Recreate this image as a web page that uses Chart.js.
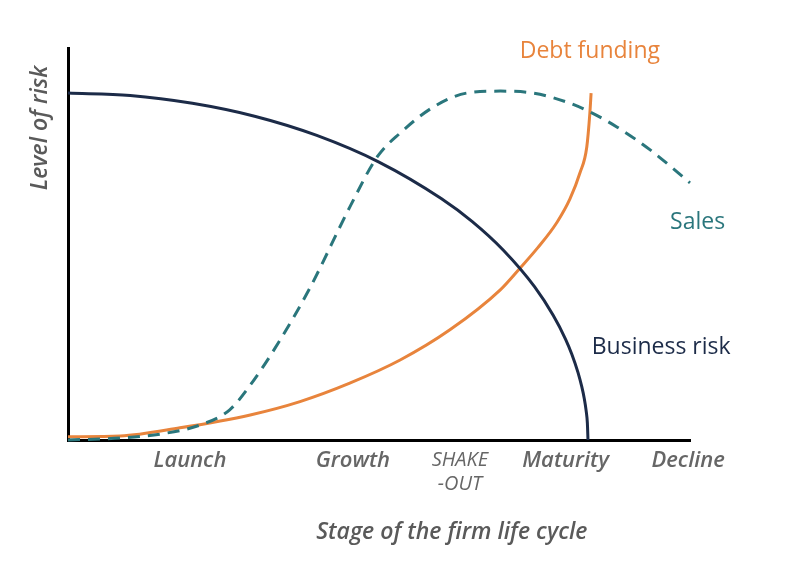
<!DOCTYPE html>
<html>
<head>
<meta charset="utf-8">
<script src="https://cdn.jsdelivr.net/npm/chart.js@4.4.1/dist/chart.umd.min.js"></script>
<style>
  html, body { margin: 0; padding: 0; background: #fff; }
  #wrap { width: 801px; height: 571px; }
</style>
</head>
<body>
<div id="wrap"><canvas id="lifeCycle"></canvas></div>
<script>
// stage positions along the x axis (0 = origin, 100 = end of axis)
const stageNames = ["Launch", "Growth", ["SHAKE", "-OUT"], "Maturity", "Decline"];
const stagePos = [19.6, 45.8, 63, 80, 99.7];

// curves: x positions and level values
const riskX = [0, 10, 20, 30, 40, 50, 60, 65, 70, 75, 78, 80, 81, 82, 82.6, 83, 83.3, 83.5, 83.6];
const riskY = [88.5, 87.9, 85.9, 82.6, 77.7, 70.9, 61.6, 55.7, 48.4, 39.1, 31.8, 25.7, 21.9, 17.2, 13.6, 10.6, 7.5, 4.3, 0];

const debtX = [0, 8.4, 18, 29.3, 37.3, 45.3, 53.4, 61.4, 69.5, 72.7, 75.5, 78.6, 80.7, 82.3, 83.4, 83.9, 84.1];
const debtY = [0.8, 1.0, 3.1, 6.4, 9.8, 14.5, 20.4, 28.1, 38.3, 43.9, 49.0, 55.5, 61.5, 68.1, 74.7, 83.4, 88.5];

const salesX = [0, 8.4, 14.8, 21.2, 26, 29.3, 34.1, 38.9, 45.3, 49.7, 53.4, 58.7, 64.1, 69.5, 74.8, 80.2, 83.9, 88.3, 93.6, 100];
const salesY = [0, 0.5, 1.5, 3.8, 7.7, 14, 25.5, 38.8, 59.4, 72.2, 78.3, 84.9, 88.5, 89, 88.5, 86.2, 83.7, 79.8, 74, 65.6];

const pts = (xs, ys) => xs.map((x, i) => ({ x: x, y: ys[i] }));

const NAVY = "#1c2b48";
const ORANGE = "#e8843c";
const TEAL = "#2a767c";
const GREY = "#666666";

// curve names and axis titles written onto the canvas
const labelPlugin = {
  id: "curveLabels",
  afterDraw(chart) {
    const { ctx, scales: { x, y } } = chart;
    ctx.save();
    ctx.textBaseline = "middle";
    ctx.font = '23px "Open Sans"';

    ctx.fillStyle = ORANGE;
    ctx.textAlign = "center";
    ctx.fillText("Debt funding", x.getPixelForValue(83.9), y.getPixelForValue(99.0));

    ctx.textAlign = "left";
    ctx.fillStyle = TEAL;
    ctx.fillText("Sales", x.getPixelForValue(96.8), y.getPixelForValue(55.4));

    ctx.fillStyle = NAVY;
    ctx.fillText("Business risk", x.getPixelForValue(84.2), y.getPixelForValue(23.5));

    ctx.fillStyle = "#5a5a5a";
    ctx.font = 'italic 600 23px "Open Sans"';
    ctx.textAlign = "center";
    ctx.fillText("Stage of the firm life cycle", x.getPixelForValue(61.7), x.bottom - 39);

    ctx.translate(40, y.getPixelForValue(79.6));
    ctx.rotate(-Math.PI / 2);
    ctx.fillText("Level of risk", 0, 0);
    ctx.restore();
  }
};

new Chart(document.getElementById("lifeCycle"), {
  type: "scatter",
  data: {
    datasets: [
      {
        label: "Business risk",
        data: pts(riskX, riskY),
        borderColor: NAVY,
        borderWidth: 3,
        cubicInterpolationMode: "monotone",
      },
      {
        label: "Sales",
        data: pts(salesX, salesY),
        borderColor: TEAL,
        borderWidth: 3,
        borderDash: [12, 8],
        cubicInterpolationMode: "monotone",
      },
      {
        label: "Debt funding",
        data: pts(debtX, debtY),
        borderColor: ORANGE,
        borderWidth: 3,
        cubicInterpolationMode: "monotone",
      }
    ]
  },
  options: {
    responsive: true,
    maintainAspectRatio: false,
    animation: false,
    showLine: true,
    elements: { point: { radius: 0, hoverRadius: 0 } },
    datasets: { scatter: { clip: false } },
    layout: { padding: { left: 68, top: 48, right: 111, bottom: 0 } },
    plugins: {
      legend: { display: false },
      tooltip: { enabled: false }
    },
    scales: {
      x: {
        type: "linear",
        min: 0,
        max: 100,
        afterFit: (s) => { s.height = 131; },
        afterBuildTicks: (s) => { s.ticks = stagePos.map((v) => ({ value: v })); },
        grid: { display: false, drawTicks: false },
        border: { display: true, color: "#000", width: 3 },
        ticks: {
          padding: 8,
          maxRotation: 0,
          autoSkip: false,
          color: GREY,
          font: (c) => ({
            family: '"Open Sans"',
            style: "italic",
            weight: c.index === 2 ? 400 : 600,
            size: c.index === 2 ? 20 : 22,
            lineHeight: 1.2
          }),
          callback: (v, i) => stageNames[i]
        }
      },
      y: {
        type: "linear",
        min: 0,
        max: 100,
        afterFit: (s) => { s.width = 0; },
        grid: { display: false, drawTicks: false },
        border: { display: true, color: "#000", width: 3 },
        ticks: { display: false }
      }
    }
  },
  plugins: [labelPlugin]
});
</script>
</body>
</html>
